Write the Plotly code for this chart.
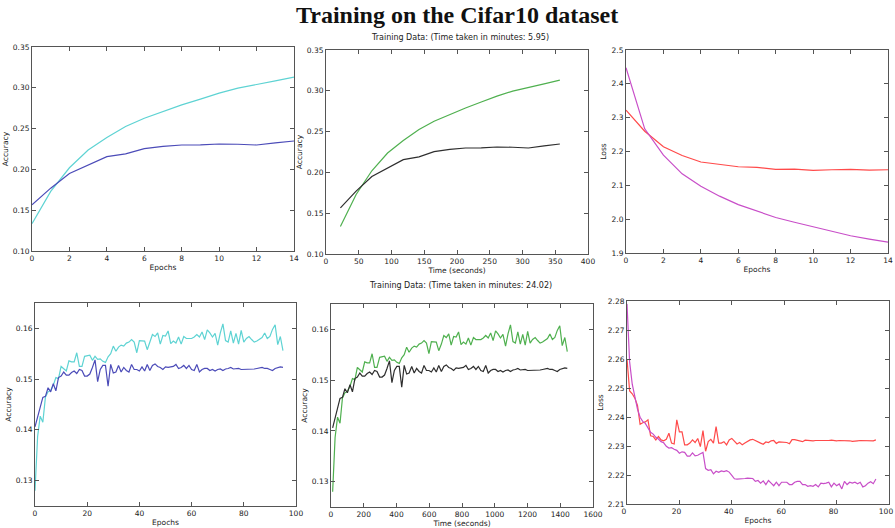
import plotly.graph_objects as go

# ---------------- data: short run (15 epochs) ----------------
epochs_short = list(range(15))
time_short = [22, 46, 70, 94, 118, 142, 165, 189, 213, 237, 261, 285, 309, 333, 357]
train_acc_short = [0.1336, 0.1730, 0.2020, 0.2238, 0.2390, 0.2525, 0.2627, 0.2710,
                   0.2790, 0.2862, 0.2934, 0.2996, 0.3037, 0.3085, 0.3130]
val_acc_short = [0.1566, 0.1770, 0.1950, 0.2050, 0.2156, 0.2190, 0.2254, 0.2283,
                 0.2299, 0.2300, 0.2311, 0.2308, 0.2299, 0.2325, 0.2348]
train_loss_short = [2.4477, 2.2670, 2.1890, 2.1340, 2.0970, 2.0680, 2.0430, 2.0230,
                    2.0050, 1.9910, 1.9770, 1.9630, 1.9510, 1.9410, 1.9320]
val_loss_short = [2.3220, 2.2600, 2.2140, 2.1880, 2.1690, 2.1630, 2.1550, 2.1530,
                  2.1470, 2.1480, 2.1440, 2.1460, 2.1470, 2.1450, 2.1460]

# ---------------- data: long run (96 epochs) ----------------
epochs_long = list(range(96))
time_long = [10, 25, 40, 55, 70, 85, 100, 116, 131, 146,
             161, 176, 191, 206, 221, 236, 251, 266, 281, 297,
             312, 327, 342, 357, 372, 387, 402, 417, 432, 447,
             462, 477, 493, 508, 523, 538, 553, 568, 583, 598,
             613, 628, 643, 658, 674, 689, 704, 719, 734, 749,
             764, 779, 794, 809, 824, 839, 854, 870, 885, 900,
             915, 930, 945, 960, 975, 990, 1005, 1020, 1035, 1050,
             1066, 1081, 1096, 1111, 1126, 1141, 1156, 1171, 1186, 1201,
             1216, 1231, 1247, 1262, 1277, 1292, 1307, 1322, 1337, 1352,
             1367, 1382, 1397, 1412, 1428, 1443]
train_acc_long = [0.1280, 0.1387, 0.1427, 0.1415, 0.1465, 0.1475, 0.1478, 0.1488, 0.1503, 0.1501,
                  0.1525, 0.1521, 0.1516, 0.1536, 0.1534, 0.1534, 0.1552, 0.1525, 0.1525, 0.1545,
                  0.1546, 0.1547, 0.1537, 0.1545, 0.1539, 0.1540, 0.1535, 0.1533, 0.1544, 0.1550,
                  0.1565, 0.1555, 0.1563, 0.1567, 0.1565, 0.1571, 0.1573, 0.1578, 0.1573, 0.1552,
                  0.1576, 0.1576, 0.1575, 0.1558, 0.1571, 0.1588, 0.1584, 0.1591, 0.1569, 0.1586,
                  0.1585, 0.1595, 0.1570, 0.1575, 0.1571, 0.1583, 0.1569, 0.1584, 0.1580, 0.1580,
                  0.1580, 0.1583, 0.1588, 0.1583, 0.1593, 0.1578, 0.1597, 0.1591, 0.1583, 0.1590,
                  0.1567, 0.1591, 0.1609, 0.1576, 0.1573, 0.1595, 0.1571, 0.1590, 0.1569, 0.1596,
                  0.1573, 0.1580, 0.1584, 0.1578, 0.1573, 0.1575, 0.1578, 0.1582, 0.1591, 0.1580,
                  0.1584, 0.1598, 0.1607, 0.1568, 0.1584, 0.1556]
val_acc_long = [0.1406, 0.1426, 0.1442, 0.1464, 0.1466, 0.1483, 0.1475, 0.1491, 0.1477, 0.1503,
                0.1506, 0.1514, 0.1508, 0.1508, 0.1513, 0.1516, 0.1511, 0.1519, 0.1517, 0.1506,
                0.1506, 0.1510, 0.1523, 0.1538, 0.1495, 0.1519, 0.1527, 0.1527, 0.1486, 0.1529,
                0.1512, 0.1514, 0.1527, 0.1514, 0.1523, 0.1517, 0.1514, 0.1529, 0.1519, 0.1519,
                0.1516, 0.1524, 0.1516, 0.1529, 0.1517, 0.1527, 0.1530, 0.1525, 0.1523, 0.1519,
                0.1524, 0.1523, 0.1524, 0.1525, 0.1529, 0.1521, 0.1523, 0.1527, 0.1521, 0.1527,
                0.1519, 0.1517, 0.1529, 0.1514, 0.1519, 0.1521, 0.1521, 0.1517, 0.1519, 0.1516,
                0.1519, 0.1520, 0.1517, 0.1520, 0.1521, 0.1523, 0.1520, 0.1520, 0.1521, 0.1519,
                0.1519, 0.1520, 0.1520, 0.1519, 0.1520, 0.1521, 0.1522, 0.1523, 0.1521, 0.1521,
                0.1519, 0.1517, 0.1521, 0.1523, 0.1524, 0.1523]
train_loss_long = [2.2790, 2.2590, 2.2513, 2.2467, 2.2427, 2.2399, 2.2385, 2.2378, 2.2360, 2.2347,
                   2.2341, 2.2330, 2.2324, 2.2315, 2.2311, 2.2299, 2.2293, 2.2294, 2.2289, 2.2285,
                   2.2275, 2.2280, 2.2278, 2.2265, 2.2265, 2.2276, 2.2266, 2.2268, 2.2273, 2.2278,
                   2.2222, 2.2216, 2.2218, 2.2204, 2.2213, 2.2209, 2.2214, 2.2212, 2.2215, 2.2210,
                   2.2199, 2.2187, 2.2186, 2.2186, 2.2187, 2.2188, 2.2189, 2.2189, 2.2188, 2.2178,
                   2.2181, 2.2172, 2.2180, 2.2167, 2.2181, 2.2172, 2.2163, 2.2175, 2.2163, 2.2175,
                   2.2175, 2.2175, 2.2167, 2.2167, 2.2175, 2.2178, 2.2178, 2.2167, 2.2167, 2.2161,
                   2.2163, 2.2161, 2.2167, 2.2159, 2.2172, 2.2170, 2.2172, 2.2175, 2.2159, 2.2172,
                   2.2163, 2.2169, 2.2152, 2.2178, 2.2167, 2.2175, 2.2172, 2.2175, 2.2170, 2.2175,
                   2.2159, 2.2163, 2.2172, 2.2177, 2.2170, 2.2186]
val_loss_long = [2.2600, 2.2490, 2.2480, 2.2465, 2.2440, 2.2375, 2.2380, 2.2383, 2.2390, 2.2335,
                 2.2333, 2.2321, 2.2333, 2.2321, 2.2318, 2.2323, 2.2344, 2.2310, 2.2307, 2.2390,
                 2.2349, 2.2349, 2.2304, 2.2304, 2.2310, 2.2321, 2.2312, 2.2326, 2.2298, 2.2353,
                 2.2282, 2.2315, 2.2323, 2.2310, 2.2367, 2.2310, 2.2310, 2.2315, 2.2304, 2.2321,
                 2.2326, 2.2318, 2.2307, 2.2312, 2.2304, 2.2310, 2.2315, 2.2321, 2.2323, 2.2318,
                 2.2315, 2.2310, 2.2306, 2.2314, 2.2312, 2.2318, 2.2319, 2.2309, 2.2314, 2.2313,
                 2.2314, 2.2312, 2.2308, 2.2322, 2.2322, 2.2320, 2.2317, 2.2315, 2.2320, 2.2319,
                 2.2318, 2.2318, 2.2319, 2.2318, 2.2319, 2.2319, 2.2318, 2.2319, 2.2320, 2.2318,
                 2.2318, 2.2319, 2.2319, 2.2320, 2.2319, 2.2318, 2.2316, 2.2316, 2.2318, 2.2319,
                 2.2319, 2.2320, 2.2319, 2.2318, 2.2318, 2.2321]

epoch_ticks_long = [0, 20, 40, 60, 80, 100]

title_text = "Training on the Cifar10 dataset"
subtitle_short = "Training Data: (Time taken in minutes: 5.95)"
subtitle_long = "Training Data: (Time taken in minutes: 24.02)"

# ---------------- styling ----------------
C_TRAIN = "#5ed3d3"   # cyan
C_VAL = "#4b4bb8"     # blue
C_TRAIN_T = "#4fb04f" # green
C_VAL_T = "#2e2e2e"   # black
C_VLOSS = "#ff4a4a"   # red
C_TLOSS = "#c84ec8"   # magenta
LW = 1.2
FONT = "DejaVu Sans"
W, H = 895, 528


def dom_x(a, b):
    return [a / W, b / W]


def dom_y(top, bottom):
    return [1 - bottom / H, 1 - top / H]


fig = go.Figure()


def add_line(x, y, color, idx):
    fig.add_trace(go.Scatter(x=x, y=y, mode="lines",
                             line=dict(color=color, width=LW),
                             xaxis="x" if idx == 1 else f"x{idx}",
                             yaxis="y" if idx == 1 else f"y{idx}",
                             showlegend=False, hoverinfo="skip"))


# top row
add_line(epochs_short, train_acc_short, C_TRAIN, 1)
add_line(epochs_short, val_acc_short, C_VAL, 1)
add_line(time_short, train_acc_short, C_TRAIN_T, 2)
add_line(time_short, val_acc_short, C_VAL_T, 2)
add_line(epochs_short, val_loss_short, C_VLOSS, 3)
add_line(epochs_short, train_loss_short, C_TLOSS, 3)
# bottom row
add_line(epochs_long, train_acc_long, C_TRAIN, 4)
add_line(epochs_long, val_acc_long, C_VAL, 4)
add_line(time_long, train_acc_long, C_TRAIN_T, 5)
add_line(time_long, val_acc_long, C_VAL_T, 5)
add_line(epochs_long, val_loss_long, C_VLOSS, 6)
add_line(epochs_long, train_loss_long, C_TLOSS, 6)

axis_common = dict(showline=True, linecolor="#555555", linewidth=1, mirror="ticks",
                   ticks="inside", ticklen=4, tickcolor="#555555", tickwidth=1,
                   showgrid=False, zeroline=False, automargin=False,
                   ticklabeloverflow="allow",
                   tickfont=dict(family=FONT, size=7.5, color="#222222"))


def xax(domain, rng, dtick, title, anchor):
    d = dict(axis_common)
    d.update(domain=domain, range=rng, dtick=dtick, tick0=0, anchor=anchor,
             title=dict(text=title, standoff=2, font=dict(family=FONT, size=7.5, color="#222222")))
    return d


def yax(domain, rng, tick0, dtick, fmt, title, anchor):
    d = dict(axis_common)
    d.update(domain=domain, range=rng, tick0=tick0, dtick=dtick, tickformat=fmt, anchor=anchor,
             title=dict(text=title, standoff=3, font=dict(family=FONT, size=7.5, color="#222222")))
    return d


x6 = xax(dom_x(627, 889), [0, 100], 20, "Epochs", "y6")
x6.update(tickmode="array", tickvals=epoch_ticks_long,
          ticktext=[str(v) for v in epoch_ticks_long], ticklabelshift=-3)

layout = dict(
    template="none",
    width=W, height=H, autosize=False,
    margin=dict(l=0, r=0, t=0, b=0, pad=0),
    paper_bgcolor="white", plot_bgcolor="white",
    showlegend=False,
    xaxis=xax(dom_x(32, 294), [0, 14], 2, "Epochs", "y"),
    yaxis=yax(dom_y(47, 251), [0.10, 0.35], 0.10, 0.05, ".2f", "Accuracy", "x"),
    xaxis2=xax(dom_x(326, 588), [0, 400], 50, "Time (seconds)", "y2"),
    yaxis2=yax(dom_y(50, 254), [0.10, 0.35], 0.10, 0.05, ".2f", "Accuracy", "x2"),
    xaxis3=xax(dom_x(626, 888), [0, 14], 2, "Epochs", "y3"),
    yaxis3=yax(dom_y(50, 253), [1.9, 2.5], 1.9, 0.1, ".1f", "Loss", "x3"),
    xaxis4=xax(dom_x(35, 296), [0, 100], 20, "Epochs", "y4"),
    yaxis4=yax(dom_y(303, 506), [0.125, 0.165], 0.13, 0.01, ".2f", "Accuracy", "x4"),
    xaxis5=xax(dom_x(331, 593), [0, 1600], 200, "Time (seconds)", "y5"),
    yaxis5=yax(dom_y(304, 507), [0.125, 0.165], 0.13, 0.01, ".2f", "Accuracy", "x5"),
    xaxis6=x6,
    yaxis6=yax(dom_y(301, 504), [2.21, 2.28], 2.21, 0.01, ".2f", "Loss", "x6"),
    annotations=[
        dict(text=f"<b>{title_text}</b>", x=457 / W, y=1 - 15 / H, xref="paper", yref="paper",
             xanchor="center", yanchor="middle", showarrow=False,
             font=dict(family="Liberation Serif", size=24, color="#111111")),
        dict(text=subtitle_short, x=460 / W, y=1 - 37 / H, xref="paper", yref="paper",
             xanchor="center", yanchor="middle", showarrow=False,
             font=dict(family=FONT, size=8, color="#222222")),
        dict(text=subtitle_long, x=460 / W, y=1 - 285 / H, xref="paper", yref="paper",
             xanchor="center", yanchor="middle", showarrow=False,
             font=dict(family=FONT, size=8, color="#222222")),
    ],
)
fig.update_layout(layout)
fig.write_html("out.html", config={"displayModeBar": False},
               post_script="document.body.style.margin='0';document.body.style.overflow='hidden';")
